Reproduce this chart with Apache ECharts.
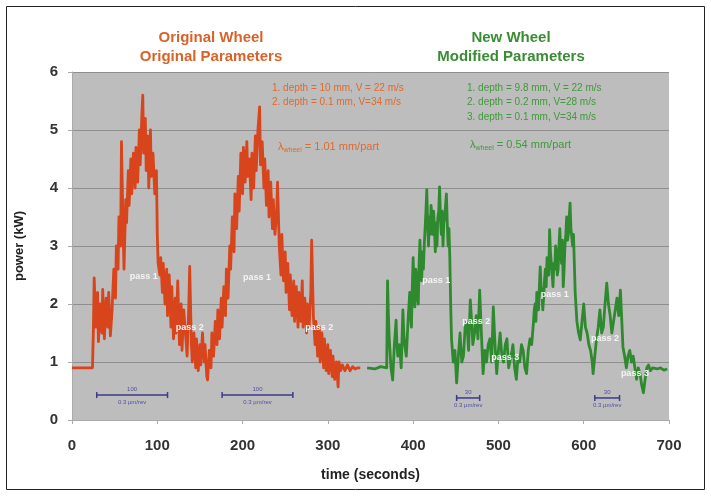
<!DOCTYPE html>
<html>
<head>
<meta charset="utf-8">
<script src="https://cdn.jsdelivr.net/npm/echarts@6/dist/echarts.min.js"></script>
<style>
html,body{margin:0;padding:0;background:#fff;}
#c{width:711px;height:496px;}
</style>
</head>
<body>
<div id="c"></div>
<script>
// ---- data ----
const xTicks = [0,100,200,300,400,500,600,700];
const yTicks = [0,1,2,3,4,5,6];

const origTime = [0,10,24,25,26,28,30,31,33,35,36,38,40,42,43,45,47,49,51,52,54,55,57,58,60,61,63,64,66,67,69,70,72,74,75,77,79,80,82,83,84,86,87,89,90,92,93,95,97,99,100,101,103,104,106,107,109,111,112,114,116,117,119,121,122,124,126,128,129,131,133,135,137,138,140,141,143,145,146,148,150,151,153,155,156,158,159,161,163,164,166,168,170,171,173,175,176,178,180,181,183,185,186,188,190,191,193,195,196,198,200,201,203,205,206,208,210,211,213,215,216,218,220,221,223,225,226,228,230,231,233,235,236,238,240,241,243,245,246,248,250,251,253,255,256,258,260,261,263,265,266,268,270,271,273,275,276,278,280,281,283,285,286,288,290,291,293,295,296,298,300,301,303,305,306,308,310,312,313,315,317,320,323,326,329,332,335,338];
const origPower = [0.9,0.9,0.9,1.5,2.45,1.6,2.2,1.35,2.0,1.5,2.25,1.4,2.1,1.6,2.2,1.45,1.9,2.6,2.1,3.0,2.6,3.5,3.0,4.8,3.2,2.6,3.8,3.4,4.3,3.7,4.5,3.9,4.6,4.0,4.7,4.1,5.0,4.4,5.3,5.6,4.6,5.2,4.3,4.9,4.0,5.0,4.2,4.6,3.9,4.3,3.2,2.7,2.5,2.8,2.2,2.7,2.0,2.6,1.8,2.5,1.6,2.3,1.4,2.1,1.5,2.4,1.3,2.0,1.2,1.9,1.5,1.1,2.0,2.65,1.3,1.0,1.5,0.9,1.4,0.85,1.3,0.95,1.5,1.0,1.3,0.75,0.69,1.2,0.9,1.5,1.1,1.7,1.3,1.9,1.4,2.1,1.6,2.3,1.8,2.6,2.1,3.0,2.6,3.5,2.9,3.9,3.3,4.2,3.6,4.6,3.9,4.7,4.1,4.8,4.2,4.5,3.8,4.6,4.0,4.9,4.3,5.0,5.4,4.4,4.8,4.0,4.5,3.7,4.3,3.5,4.1,3.3,3.8,3.2,3.6,4.1,3.0,2.5,3.2,2.4,2.9,2.2,2.7,1.9,2.5,1.8,2.4,1.7,2.3,1.6,2.2,1.7,2.4,1.6,2.1,1.5,2.0,1.6,2.2,3.1,1.8,1.3,1.7,1.1,1.6,1.0,1.5,0.9,1.4,0.85,1.3,0.8,1.2,0.75,1.1,0.7,1.0,0.57,1.0,0.85,0.95,0.85,0.95,0.85,0.92,0.88,0.9,0.9];

const newTime = [346,355,362,369,370,371,372,374,376,378,380,381,382,384,386,388,389,390,392,394,396,397,398,399,400,401,402,403,404,405,406,407,408,409,410,411,412,413,414,415,416,417,418,419,420,421,422,423,424,425,426,427,428,429,430,431,432,433,434,435,436,437,438,439,440,441,442,443,444,445,447,449,451,453,455,457,459,461,463,465,467,469,470,472,474,476,478,480,482,484,486,488,490,492,494,496,498,500,502,504,506,508,510,512,514,516,517,519,521,523,525,527,529,531,533,535,537,539,541,542,543,544,545,546,547,548,549,550,551,552,553,554,555,556,557,558,559,560,561,562,563,564,565,566,567,568,569,570,571,572,573,574,575,576,577,578,579,580,581,582,583,584,585,586,587,588,589,590,592,594,596,598,600,602,604,606,608,610,611,613,615,617,619,621,623,625,627,629,631,633,635,637,639,641,643,645,646,648,650,652,654,656,658,660,662,664,666,668,670,672,674,676,678,681,686,690,694,698];
const newPower = [0.9,0.88,0.92,0.9,2.4,1.8,1.4,0.9,0.69,1.3,1.72,1.3,1.1,1.3,0.9,1.9,1.5,1.3,1.1,1.7,2.2,1.8,1.6,2.3,2.8,2.3,1.95,2.6,2.5,2.1,2.0,2.7,3.1,2.6,2.4,2.9,2.6,3.0,3.3,3.6,3.97,3.4,3.0,3.5,3.2,3.7,3.5,3.2,3.6,3.3,2.9,3.4,3.0,3.5,3.6,4.02,3.5,3.2,3.6,3.0,3.4,3.5,3.7,3.9,3.4,3.0,3.3,2.8,2.0,1.4,1.0,1.2,0.64,1.1,1.5,1.0,1.1,1.6,1.7,1.2,2.07,1.6,1.3,1.5,1.8,1.4,2.24,1.5,0.8,1.2,1.0,1.3,1.4,1.0,1.95,1.3,0.8,1.2,1.5,1.1,1.0,1.3,1.4,0.9,0.9,1.2,1.3,0.9,0.7,1.1,1.0,1.3,1.2,0.9,0.8,1.2,1.4,1.3,1.67,1.9,2.0,1.7,2.2,2.0,1.9,2.3,2.64,2.3,2.2,1.9,2.1,2.4,2.6,2.3,2.8,2.6,2.5,3.28,2.9,2.7,2.5,2.3,2.7,2.6,3.0,2.9,2.5,2.6,3.0,3.3,2.9,2.7,3.1,2.3,2.6,3.0,3.2,3.5,3.1,3.2,3.5,3.74,3.3,3.3,3.0,3.2,2.7,2.2,1.7,1.5,1.38,1.7,2.0,1.6,1.5,1.3,1.2,1.0,0.8,1.1,1.4,1.6,1.9,1.5,1.6,2.0,2.36,2.0,1.8,1.5,1.7,1.9,2.1,1.8,2.24,1.6,1.26,1.1,0.9,1.1,1.2,1.0,1.1,0.9,0.7,0.9,0.8,0.6,0.47,0.7,0.9,0.95,0.85,0.9,0.88,0.9,0.86,0.88];

// annotations (data coordinates)
const passLabels = ['pass 1','pass 2','pass 1','pass 2','pass 1','pass 2','pass 3','pass 1','pass 2','pass 3'];
const passT = [84,138,217,290,427,474,508,566,625,660];
const passV = [2.47,1.6,2.45,1.59,2.41,1.69,1.07,2.16,1.41,0.81];
const brStart = [29,176,451,613];
const brEnd = [112,259,478,642];
const brV = [0.43,0.43,0.38,0.38];
const brTop = ['100','100','30','30'];
const brBottom = ['0.3 µm/rev','0.3 µm/rev','0.3 µm/rev','0.3 µm/rev'];

const zip = (a,b) => a.map((v,i)=>[v,b[i]]);

const chart = echarts.init(document.getElementById('c'), null, {renderer:'canvas'});
const FONT = '"Liberation Sans", Arial, sans-serif';
const ORANGE = '#d8632a';
const GREEN = '#3a8c34';

chart.setOption({
  animation:false,
  textStyle:{fontFamily:FONT},
  grid:{left:72,right:42,top:72,bottom:76,show:true,backgroundColor:'#bdbdbd',borderWidth:0},
  xAxis:{
    type:'value',min:0,max:700,interval:100,
    name:'time (seconds)',nameLocation:'middle',nameGap:48,
    nameTextStyle:{fontFamily:FONT,fontSize:14,fontWeight:'bold',color:'#222'},
    axisLine:{show:true,lineStyle:{color:'#aaaaaa',width:1}},
    axisTick:{show:true,length:4,lineStyle:{color:'#aaaaaa'}},
    axisLabel:{fontFamily:FONT,fontSize:15,fontWeight:'bold',color:'#333',margin:18,
      formatter:v=>xTicks.includes(v)?String(v):''},
    splitLine:{show:false}
  },
  yAxis:{
    type:'value',min:0,max:6,interval:1,
    name:'power (kW)',nameLocation:'middle',nameGap:46,nameRotate:90,
    nameTextStyle:{fontFamily:FONT,fontSize:13,fontWeight:'bold',color:'#222'},
    axisLine:{show:true,lineStyle:{color:'#aaaaaa',width:1}},
    axisTick:{show:true,length:4,lineStyle:{color:'#aaaaaa'}},
    axisLabel:{fontFamily:FONT,fontSize:15,fontWeight:'bold',color:'#333',margin:14,
      formatter:v=>yTicks.includes(v)?String(v):''},
    splitLine:{show:true,lineStyle:{color:'#8f8f8f',width:1}}
  },
  series:[
    {type:'line',data:zip(origTime,origPower),showSymbol:false,symbol:'none',
      lineStyle:{color:'#d8451c',width:2.8,join:'round'},z:3},
    {type:'line',data:zip(newTime,newPower),showSymbol:false,symbol:'none',
      lineStyle:{color:'#2f8a2f',width:2.8,join:'round'},z:3}
  ]
});

function px(t,v){ return chart.convertToPixel({gridIndex:0},[t,v]); }

const g = [];
// outer frame
g.push({type:'rect',shape:{x:6.5,y:6.5,width:698,height:483},style:{fill:null,stroke:'#222',lineWidth:1},z:0,silent:true});
// titles
const title = (txt,x,y,col)=>g.push({type:'text',x:x,y:y,style:{text:txt,fill:col,font:'bold 15px '+FONT,textAlign:'center',textVerticalAlign:'middle'},z:10});
title('Original Wheel',211,38,ORANGE);
title('Original Parameters',211,57,ORANGE);
title('New Wheel',511,38,GREEN);
title('Modified Parameters',511,57,GREEN);
// annotations
const ann = (txt,x,y,col)=>g.push({type:'text',x:x,y:y,style:{text:txt,fill:col,font:'10px '+FONT,textAlign:'left',textVerticalAlign:'middle'},z:10});
ann('1. depth = 10 mm, V = 22 m/s',272,88,'#e06a2c');
ann('2. depth = 0.1 mm, V=34 m/s',272,102,'#e06a2c');
ann('1. depth = 9.8 mm, V = 22 m/s',467,88,'#3f9a3a');
ann('2. depth = 0.2 mm, V=28 m/s',467,102,'#3f9a3a');
ann('3. depth = 0.1 mm, V=34 m/s',467,117,'#3f9a3a');
const lam = (val,x,y,col)=>g.push({type:'text',x:x,y:y,style:{
  rich:{a:{fill:col,font:'11px '+FONT},s:{fill:col,font:'7px '+FONT,padding:[7,0,0,0]}},
  text:'{a|λ}{s|wheel}{a| = '+val+' mm/part}',textVerticalAlign:'middle'},z:10});
lam('1.01',278,147,'#e06a2c');
lam('0.54',470,145,'#3f9a3a');

// brackets
for(let i=0;i<brStart.length;i++){
  const a = px(brStart[i],brV[i]); const b = px(brEnd[i],brV[i]);
  const col='#3b3b8c';
  g.push({type:'line',shape:{x1:a[0],y1:a[1],x2:b[0],y2:b[1]},style:{stroke:col,lineWidth:1.5},z:8});
  g.push({type:'line',shape:{x1:a[0],y1:a[1]-3,x2:a[0],y2:a[1]+3},style:{stroke:col,lineWidth:1.5},z:8});
  g.push({type:'line',shape:{x1:b[0],y1:b[1]-3,x2:b[0],y2:b[1]+3},style:{stroke:col,lineWidth:1.5},z:8});
  const cx=(a[0]+b[0])/2;
  g.push({type:'text',x:cx,y:a[1]-6,style:{text:brTop[i],fill:'#5050a0',font:'6px '+FONT,textAlign:'center',textVerticalAlign:'middle'},z:8});
  g.push({type:'text',x:cx,y:a[1]+7,style:{text:brBottom[i],fill:'#5050a0',font:'6px '+FONT,textAlign:'center',textVerticalAlign:'middle'},z:8});
}
// pass labels
for(let i=0;i<passLabels.length;i++){
  const p = px(passT[i],passV[i]);
  g.push({type:'text',x:p[0],y:p[1],style:{text:passLabels[i],fill:'#f4f4f4',font:'bold 9px '+FONT,textAlign:'center',textVerticalAlign:'middle'},z:9});
}
chart.setOption({graphic:g});
</script>
</body>
</html>
